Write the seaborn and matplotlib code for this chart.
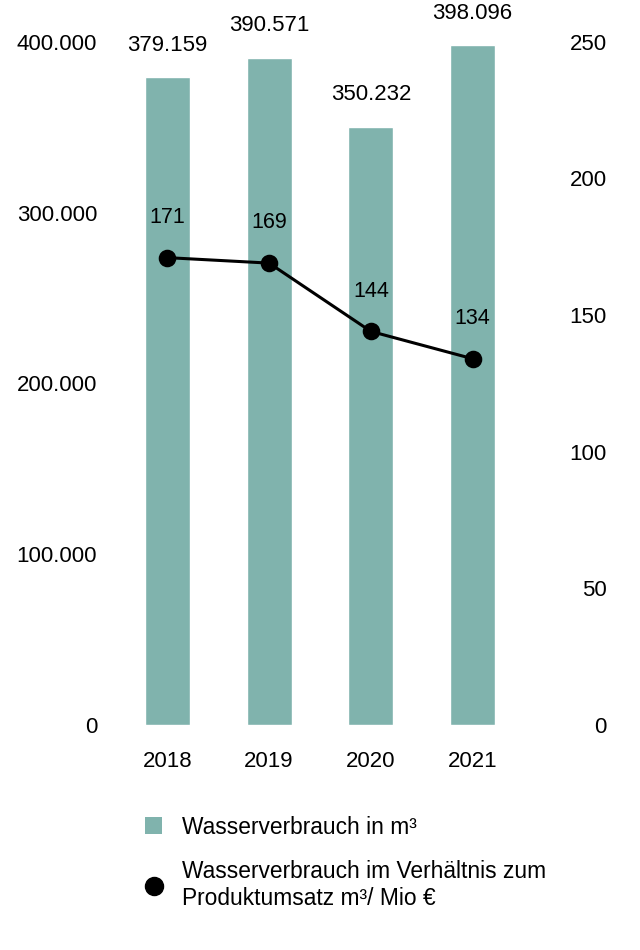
import numpy as np
import pandas as pd
import seaborn as sns
import matplotlib.pyplot as plt
from matplotlib.ticker import FuncFormatter
from matplotlib.patches import Patch
from matplotlib.lines import Line2D

years = ['2018', '2019', '2020', '2021']
water_m3 = [379159, 390571, 350232, 398096]
ratio = [171, 169, 144, 134]
left_ticks = [0, 100000, 200000, 300000, 400000]
right_ticks = [0, 50, 100, 150, 200, 250]

bar_color = '#80b3ad'

sns.set_theme(style='white')
plt.rcParams['font.family'] = ['Liberation Sans', 'DejaVu Sans']
plt.rcParams['text.color'] = 'black'
plt.rcParams['xtick.color'] = 'black'
plt.rcParams['ytick.color'] = 'black'

df = pd.DataFrame({'Jahr': years, 'Wasser': water_m3, 'Ratio': ratio})

fig = plt.figure(figsize=(6.4, 9.5), dpi=100)
ax = fig.add_axes([0.182, 0.237, 0.636, 0.719])
sns.barplot(data=df, x='Jahr', y='Wasser', color=bar_color, saturation=1, width=0.44, ax=ax)
ax.set_ylim(0, 400000)
ax.set_xlim(-0.5, 3.5)

def de_fmt(v, pos):
    return f'{int(v):,}'.replace(',', '.')

ax.set_yticks(left_ticks)
ax.yaxis.set_major_formatter(FuncFormatter(de_fmt))
ax.tick_params(axis='y', length=0, pad=14, labelsize=16)
ax.tick_params(axis='x', length=0, pad=19, labelsize=16)
ax.set_xlabel('')
ax.set_ylabel('')
for s in ax.spines.values():
    s.set_visible(False)

for i, v in enumerate(water_m3):
    ax.annotate(de_fmt(v, None), (i, v), xytext=(0, 23), textcoords='offset points',
                ha='center', va='center', fontsize=16)

ax2 = ax.twinx()
sns.pointplot(data=df, x='Jahr', y='Ratio', color='black', markers='o', markersize=11,
              linewidth=2.2, ax=ax2)
ax2.set_ylim(0, 250)
ax2.set_xlim(-0.5, 3.5)
ax2.set_yticks(right_ticks)
ax2.tick_params(axis='y', length=0, pad=60, labelsize=16)
for lab in ax2.get_yticklabels():
    lab.set_ha('right')
ax2.set_xlabel('')
ax2.set_ylabel('')
for s in ax2.spines.values():
    s.set_visible(False)

for i, v in enumerate(ratio):
    ax2.annotate(str(v), (i, v), xytext=(0, 29), textcoords='offset points',
                 ha='center', va='center', fontsize=15.5)

handles = [Patch(facecolor=bar_color, edgecolor='none'),
           Line2D([], [], color='black', marker='o', linestyle='none', markersize=13)]
labels = ['Wasserverbrauch in m³', 'Wasserverbrauch im Verhältnis zum\nProduktumsatz m³/ Mio €']
fig.legend(handles, labels, loc='upper left', bbox_to_anchor=(0.194, 0.163), frameon=False,
           fontsize=16.4, handlelength=0.78, handleheight=0.78, handletextpad=0.85,
           labelspacing=0.95)

fig.savefig('out.png', dpi=100)
